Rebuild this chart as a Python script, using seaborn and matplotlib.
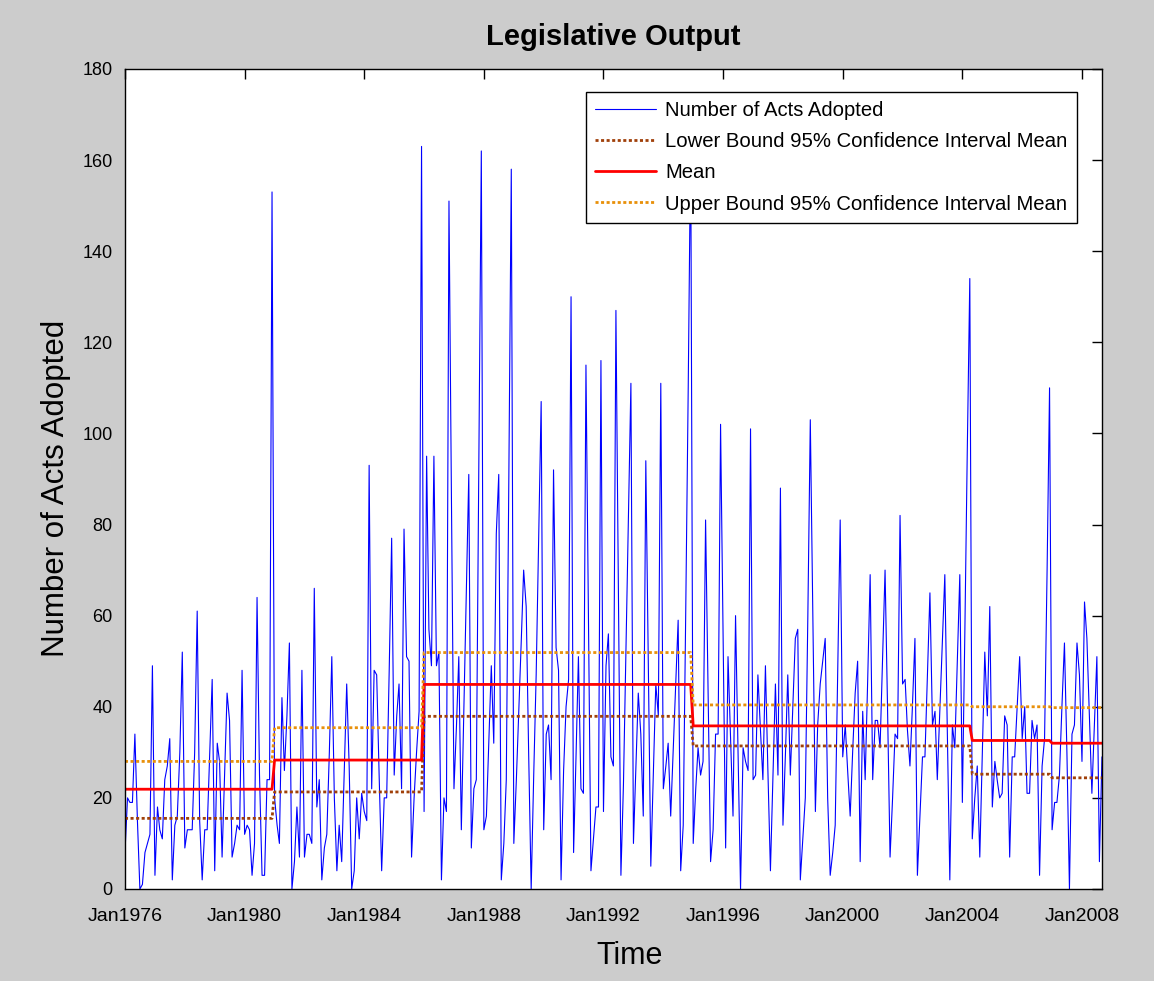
import numpy as np
import pandas as pd
import seaborn as sns
import matplotlib
matplotlib.use("Agg")
import matplotlib.pyplot as plt
import matplotlib.dates as mdates

# monthly number of acts adopted (Jan 1976 - Sep 2008)
acts = [
    8, 20, 19, 19, 34, 15, 0, 1, 8, 10, 12, 49,        # 1976
    3, 18, 13, 11, 24, 27, 33, 2, 14, 16, 30, 52,      # 1977
    9, 13, 13, 13, 30, 61, 15, 2, 13, 13, 30, 46,      # 1978
    4, 32, 28, 7, 25, 43, 37, 7, 10, 14, 13, 48,       # 1979
    12, 14, 13, 3, 10, 64, 25, 3, 3, 24, 24, 153,      # 1980
    20, 14, 10, 42, 26, 38, 54, 0, 6, 18, 7, 48,       # 1981
    7, 12, 12, 10, 66, 18, 24, 2, 9, 12, 30, 51,       # 1982
    20, 4, 14, 6, 25, 45, 27, 0, 4, 20, 11, 21,        # 1983
    17, 15, 93, 22, 48, 47, 25, 4, 20, 20, 48, 77,     # 1984
    25, 38, 45, 22, 79, 51, 50, 7, 20, 30, 39, 163,    # 1985
    17, 95, 57, 49, 95, 49, 52, 2, 20, 17, 151, 86,    # 1986
    22, 36, 51, 13, 39, 65, 91, 9, 22, 24, 93, 162,    # 1987
    13, 16, 32, 49, 32, 78, 91, 2, 10, 24, 90, 158,    # 1988
    10, 24, 38, 54, 70, 62, 30, 0, 25, 47, 77, 107,    # 1989
    13, 34, 36, 24, 92, 53, 48, 2, 26, 40, 46, 130,    # 1990
    8, 30, 51, 22, 21, 115, 60, 4, 11, 18, 18, 116,    # 1991
    17, 49, 56, 29, 27, 127, 65, 3, 23, 52, 82, 111,   # 1992
    10, 27, 43, 34, 16, 94, 50, 5, 25, 45, 38, 111,    # 1993
    22, 27, 32, 16, 30, 45, 59, 4, 14, 60, 110, 165,   # 1994
    10, 22, 31, 25, 28, 81, 44, 6, 13, 34, 34, 102,    # 1995
    55, 9, 51, 33, 16, 60, 30, 0, 31, 28, 26, 101,     # 1996
    24, 25, 47, 35, 24, 49, 26, 4, 25, 45, 25, 88,     # 1997
    14, 30, 47, 25, 40, 55, 57, 2, 11, 20, 60, 103,    # 1998
    60, 17, 36, 45, 50, 55, 20, 3, 8, 14, 48, 81,      # 1999
    29, 36, 26, 16, 30, 43, 50, 6, 39, 24, 46, 69,     # 2000
    24, 37, 37, 31, 50, 70, 40, 7, 20, 34, 33, 82,     # 2001
    45, 46, 35, 27, 40, 55, 3, 16, 29, 29, 47, 65,     # 2002
    36, 39, 24, 39, 54, 69, 35, 2, 36, 31, 50, 69,     # 2003
    19, 57, 96, 134, 11, 20, 27, 7, 30, 52, 38, 62,    # 2004
    18, 28, 24, 20, 21, 38, 36, 7, 29, 29, 40, 51,     # 2005
    33, 40, 21, 21, 37, 33, 36, 3, 27, 33, 70, 110,    # 2006
    13, 19, 19, 25, 40, 54, 30, 0, 34, 36, 54, 47,     # 2007
    28, 63, 55, 38, 21, 36, 51, 6, 29,                 # 2008
]

# periods (first month of each) and the levels drawn for them
period_starts = ['1976-01', '1981-01', '1986-01', '1995-01', '2004-05', '2007-01']
mean_levels = [21.9, 28.3, 44.9, 35.8, 32.6, 32.0]
lower_levels = [15.5, 21.3, 37.9, 31.4, 25.2, 24.4]
upper_levels = [28.0, 35.4, 51.9, 40.4, 40.0, 39.8]

tick_years = pd.date_range('1976-01-01', '2008-01-01', freq='48MS')

dates = pd.date_range('1976-01-01', periods=len(acts), freq='MS')
period = np.searchsorted(pd.to_datetime(period_starts), dates, side='right') - 1
df = pd.DataFrame({
    'Date': dates,
    'Acts': acts,
    'Lower': np.array(lower_levels)[period],
    'Mean': np.array(mean_levels)[period],
    'Upper': np.array(upper_levels)[period],
})

sns.set_style('white')
plt.rcParams['font.family'] = ['Liberation Sans', 'DejaVu Sans']
plt.rcParams['text.color'] = 'black'
plt.rcParams['axes.labelcolor'] = 'black'

fig = plt.figure(figsize=(11.54, 9.81), dpi=100, facecolor='#cccccc')
ax = fig.add_axes([0.1083, 0.0938, 0.8466, 0.8359])
ax.set_facecolor('white')

dots = (0, (1.1, 0.9))
sns.lineplot(data=df, x='Date', y='Acts', ax=ax, color='#0000ff', lw=0.8,
             estimator=None, label='Number of Acts Adopted')
sns.lineplot(data=df, x='Date', y='Lower', ax=ax, color='#a0400a', lw=2.0,
             linestyle=dots, estimator=None,
             label='Lower Bound 95% Confidence Interval Mean')
sns.lineplot(data=df, x='Date', y='Mean', ax=ax, color='#ff0000', lw=2.0,
             estimator=None, label='Mean')
sns.lineplot(data=df, x='Date', y='Upper', ax=ax, color='#e8900a', lw=2.0,
             linestyle=dots, estimator=None,
             label='Upper Bound 95% Confidence Interval Mean')

ax.set_xlim(dates[0], dates[-1])
ax.set_ylim(0, 180)
ax.set_yticks(range(0, 181, 20))
ax.set_xticks(tick_years)
ax.xaxis.set_major_formatter(mdates.DateFormatter('%b%Y'))

ax.tick_params(direction='in', top=True, right=True, length=7, width=1,
               colors='black')
ax.tick_params(axis='y', labelsize=13, pad=9)
ax.tick_params(axis='x', labelsize=14, pad=14)
for spine in ax.spines.values():
    spine.set_color('black')
    spine.set_linewidth(1)

ax.set_title('Legislative Output', fontsize=21, fontweight='bold', pad=17)
ax.set_xlabel('Time', fontsize=22)
ax.set_ylabel('Number of Acts Adopted', fontsize=22.5)
ax.xaxis.set_label_coords(0.516, -0.063)
ax.yaxis.set_label_coords(-0.055, 0.488)

leg = ax.legend(loc='upper right', bbox_to_anchor=(0.9744, 0.972),
                borderaxespad=0, fontsize=14.6, frameon=True, fancybox=False,
                framealpha=1, edgecolor='black', handlelength=3.0,
                handletextpad=0.45, labelspacing=0.6, borderpad=0.45)
leg.get_frame().set_linewidth(1)

plt.savefig('out.png', dpi=100, facecolor=fig.get_facecolor())
